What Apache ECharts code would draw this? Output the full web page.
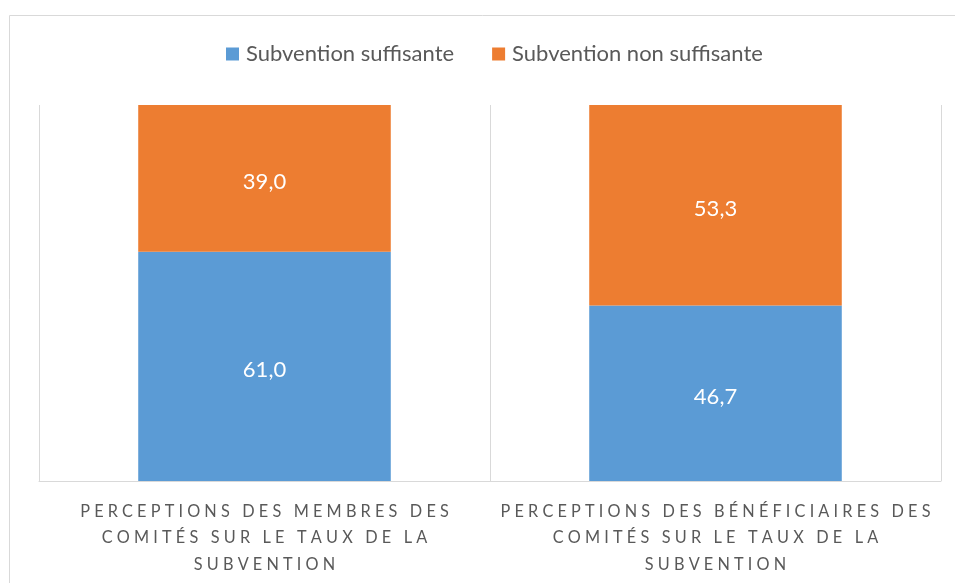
<!DOCTYPE html>
<html>
<head>
<meta charset="utf-8">
<script src="https://cdn.jsdelivr.net/npm/echarts@6/dist/echarts.min.js"></script>
<style>
  html, body { margin: 0; padding: 0; background: #fff; }
  #chart { width: 955px; height: 583px; }
</style>
</head>
<body>
<div id="chart"></div>
<script>
var categories = [
  ['PERCEPTIONS DES MEMBRES DES', 'COMITÉS SUR LE TAUX DE LA', 'SUBVENTION'],
  ['PERCEPTIONS DES BÉNÉFICIAIRES DES', 'COMITÉS SUR LE TAUX DE LA', 'SUBVENTION']
];
var seriesNames = ['Subvention suffisante', 'Subvention non suffisante'];
var suffisante = [61.0, 46.7];
var nonSuffisante = [39.0, 53.3];

// spread the letters a bit, like the original axis labels
function spaced(s) {
  return s.split('').join(' ');
}

function frNum(p) {
  return p.value.toFixed(1).replace('.', ',');
}

var myChart = echarts.init(document.getElementById('chart'));

var option = {
  textStyle: { fontFamily: 'Lato' },
  color: ['#5b9bd5', '#ed7d31'],
  graphic: [{
    type: 'rect',
    shape: { x: 9.5, y: 15.5, width: 1000, height: 600 },
    style: { fill: 'none', stroke: '#d9d9d9', lineWidth: 1 },
    silent: true
  }],
  legend: {
    top: 38,
    left: 221,
    itemWidth: 13,
    itemHeight: 13,
    itemGap: 38,
    icon: 'rect',
    textStyle: { fontSize: 22, color: '#595959', fontFamily: 'Lato', padding: [0, 2, 0, 2] },
    data: seriesNames
  },
  grid: { left: 39, right: 14, top: 105, bottom: 102 },
  xAxis: {
    type: 'category',
    data: categories.map(function (c) { return c.join('\n'); }),
    axisLine: { lineStyle: { color: '#d9d9d9' } },
    axisTick: { show: false },
    splitLine: { show: true, lineStyle: { color: '#d9d9d9' } },
    axisLabel: {
      interval: 0,
      margin: 17,
      color: '#595959',
      fontSize: 16.3,
      lineHeight: 26.5,
      formatter: function (v) {
        return v.split('\n').map(spaced).join('\n');
      }
    }
  },
  yAxis: {
    type: 'value',
    min: 0,
    max: 100,
    show: false,
    splitLine: { show: false }
  },
  series: [
    {
      name: seriesNames[0],
      type: 'bar',
      stack: 'total',
      barWidth: '56%',
      data: suffisante,
      label: { show: true, color: '#fff', fontSize: 22, offset: [0, 4], formatter: frNum }
    },
    {
      name: seriesNames[1],
      type: 'bar',
      stack: 'total',
      barWidth: '56%',
      data: nonSuffisante,
      label: { show: true, color: '#fff', fontSize: 22, offset: [0, 4], formatter: frNum }
    }
  ]
};

myChart.setOption(option);
</script>
</body>
</html>
